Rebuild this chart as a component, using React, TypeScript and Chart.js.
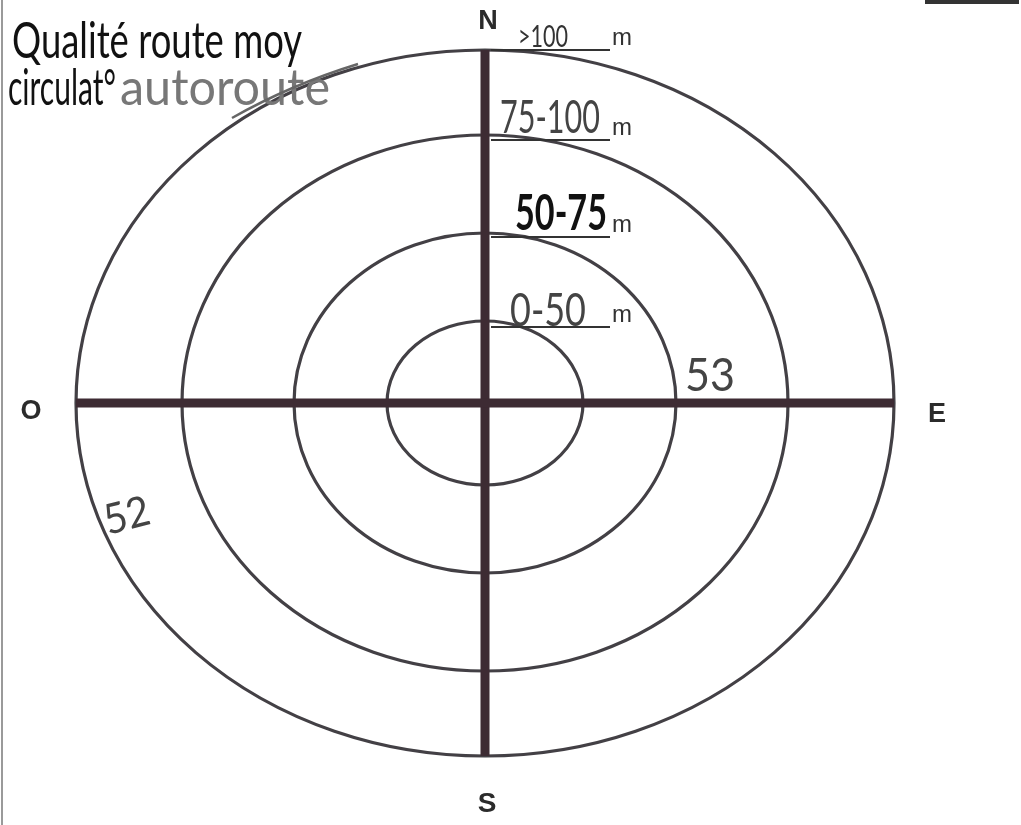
import React, { useEffect, useRef } from "react";
import { Chart, registerables } from "chart.js";

Chart.register(...registerables);

// Ring labels (distance bands) and their semi-axes (chart units)
const ringLabels = [">100", "75-100", "50-75", "0-50"];
const ringRx = [409, 303, 191, 98];
const ringRy = [353, 268, 170, 82];
// Compass directions
const directions = ["N", "E", "S", "O"];
// Handwritten observations
const titleLines = ["Qualité route moy", "circulat°"];
const titleExtra = "autoroute";
const noteEast = "53";
const noteWest = "52";

const W = 1021;
const H = 825;
const CX = 485; // center pixel
const CY = 403;

const App: React.FC = () => {
  const ref = useRef<HTMLCanvasElement | null>(null);

  useEffect(() => {
    if (!ref.current) return;
    const outerX = ringRx[0];
    const outerY = ringRy[0];

    const ellipsePlugin = {
      id: "ellipses",
      beforeDatasetsDraw(chart: any) {
        const { ctx, scales } = chart;
        const xs = scales.x;
        const ys = scales.y;
        const cx = xs.getPixelForValue(0);
        const cy = ys.getPixelForValue(0);
        ctx.save();
        ctx.strokeStyle = "#434045";
        ctx.lineWidth = 3.2;
        ringRx.forEach((rx, i) => {
          const px = xs.getPixelForValue(rx) - cx;
          const py = cy - ys.getPixelForValue(ringRy[i]);
          ctx.beginPath();
          ctx.ellipse(cx, cy, px, py, 0, 0, Math.PI * 2);
          ctx.stroke();
        });
        ctx.restore();
      },
      afterDraw(chart: any) {
        const { ctx, scales } = chart;
        const xs = scales.x;
        const cx = xs.getPixelForValue(0);
        ctx.save();
        // page frame bits of the scanned form
        ctx.strokeStyle = "#9a9a9a";
        ctx.lineWidth = 2;
        ctx.beginPath();
        ctx.moveTo(2, 0);
        ctx.lineTo(2, H);
        ctx.stroke();
        ctx.fillStyle = "#333";
        ctx.fillRect(925, 0, 94, 4);

        // direction letters
        ctx.fillStyle = "#2b2b2b";
        ctx.textAlign = "center";
        ctx.textBaseline = "alphabetic";
        ctx.font = "bold 27px 'Liberation Sans', Arial, sans-serif";
        ctx.fillText(directions[0], cx + 3, 29);
        ctx.fillText(directions[1], 937, 422);
        ctx.fillText(directions[3], 31, 419);
        ctx.font = "bold 28px 'Liberation Sans', Arial, sans-serif";
        ctx.fillText(directions[2], cx + 2, 812);

        // band underlines + "m"
        const underY = [50, 140, 237, 327];
        ctx.strokeStyle = "#333";
        ctx.lineWidth = 2;
        ctx.font = "24px 'Liberation Sans', Arial, sans-serif";
        ctx.textAlign = "left";
        underY.forEach((uy) => {
          ctx.beginPath();
          ctx.moveTo(cx + 6, uy);
          ctx.lineTo(610, uy);
          ctx.stroke();
          ctx.fillStyle = "#333";
          ctx.fillText("m", 612, uy - 5);
        });

        const hand = (
          text: string,
          x: number,
          base: number,
          width: number,
          size: number,
          color: string,
          weight = "400",
          rot = 0
        ) => {
          ctx.save();
          ctx.font = `${weight} ${size}px Lato, 'Open Sans', sans-serif`;
          const m = ctx.measureText(text).width;
          ctx.translate(x, base);
          if (rot) ctx.rotate(rot);
          ctx.scale(width / m, 1);
          ctx.fillStyle = color;
          ctx.textAlign = "left";
          ctx.fillText(text, 0, 0);
          ctx.restore();
        };

        // ring band labels (handwritten)
        hand(ringLabels[0], 518, 47, 50, 30, "#333");
        hand(ringLabels[1], 500, 133, 100, 46, "#444");
        hand(ringLabels[2], 515, 230, 92, 50, "#111", "700");
        hand(ringLabels[3], 510, 326, 76, 46, "#444");

        // title
        hand(titleLines[0], 12, 58, 290, 50, "#111");
        hand(titleLines[1], 8, 105, 108, 50, "#111");
        hand(titleExtra, 120, 105, 210, 50, "#777");
        ctx.strokeStyle = "#666";
        ctx.lineWidth = 2.5;
        ctx.beginPath();
        ctx.moveTo(232, 118);
        ctx.quadraticCurveTo(290, 85, 358, 64);
        ctx.stroke();

        // notes
        hand(noteEast, 685, 391, 50, 47, "#444");
        hand(noteWest, 108, 535, 46, 42, "#444", "400", -0.25);
        ctx.restore();
      },
    };

    const chart = new Chart(ref.current, {
      type: "scatter",
      data: {
        datasets: [
          {
            label: "O-E",
            data: [
              { x: -outerX, y: 0 },
              { x: outerX, y: 0 },
            ],
            showLine: true,
            borderColor: "#3d2b33",
            borderWidth: 9,
            pointRadius: 0,
          },
          {
            label: "N-S",
            data: [
              { x: 0, y: outerY },
              { x: 0, y: -outerY },
            ],
            showLine: true,
            borderColor: "#3d2b33",
            borderWidth: 9,
            pointRadius: 0,
          },
        ],
      },
      options: {
        animation: false,
        responsive: false,
        layout: { padding: 0 },
        plugins: { legend: { display: false }, tooltip: { enabled: false } },
        scales: {
          x: { type: "linear", display: false, min: -CX, max: W - CX },
          y: { type: "linear", display: false, min: -(H - CY), max: CY },
        },
      },
      plugins: [ellipsePlugin],
    });
    return () => chart.destroy();
  }, []);

  return (
    <div style={{ position: "fixed", left: 0, top: 0, width: W, height: H, background: "#fff" }}>
      <canvas ref={ref} width={W} height={H} style={{ display: "block" }} />
    </div>
  );
};

export default App;
